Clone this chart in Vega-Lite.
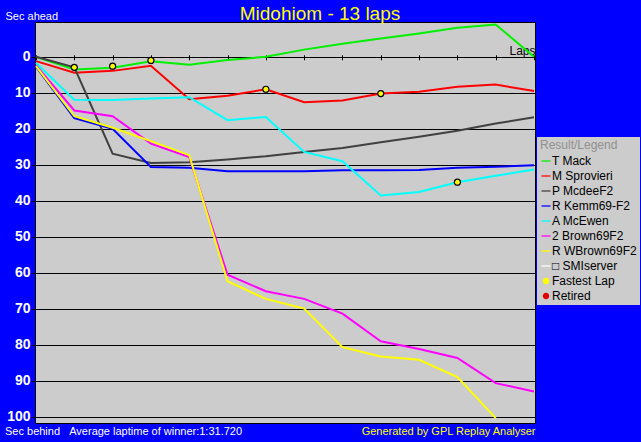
{
  "$schema": "https://vega.github.io/schema/vega-lite/v6.json",
  "width": 500,
  "height": 401,
  "autosize": {"type": "none"},
  "padding": {"left": 35, "top": 22, "right": 106, "bottom": 19},
  "background": "#0000ff",
  "title": {"text": "Midohiom - 13 laps", "color": "#ffff00", "font": "Liberation Sans", "fontSize": 19, "fontWeight": "normal", "anchor": "middle", "dx": 35, "dy": 16, "offset": 2},
  "config": {
    "view": {"fill": "#cccccc", "stroke": "#000000", "strokeWidth": 1},
    "font": "Liberation Sans",
    "legend": {"orient": "none", "legendX": 502, "legendY": 115, "titleColor": "#909090", "titleFontSize": 12, "titleFontWeight": "normal", "titleFont": "Liberation Sans", "titlePadding": 3, "labelFontSize": 12, "labelFont": "Liberation Sans", "labelColor": "#000000", "labelOffset": 0, "rowPadding": 3, "padding": 3, "fillColor": "#cccccc", "symbolSize": 81, "symbolOpacity": 1, "symbolStrokeWidth": 0}
  },
  "datasets": {
    "laps": [
      {"series": "T Mack", "lap": 0, "sec": 0}, {"series": "T Mack", "lap": 1, "sec": 3.5}, {"series": "T Mack", "lap": 2, "sec": 3.0}, {"series": "T Mack", "lap": 3, "sec": 1.2}, {"series": "T Mack", "lap": 4, "sec": 2.2}, {"series": "T Mack", "lap": 5, "sec": 0.9}, {"series": "T Mack", "lap": 6, "sec": 0.0}, {"series": "T Mack", "lap": 7, "sec": -2.0}, {"series": "T Mack", "lap": 8, "sec": -3.6}, {"series": "T Mack", "lap": 9, "sec": -5.1}, {"series": "T Mack", "lap": 10, "sec": -6.5}, {"series": "T Mack", "lap": 11, "sec": -8.1}, {"series": "T Mack", "lap": 12, "sec": -9.0}, {"series": "T Mack", "lap": 13, "sec": 0},
      {"series": "M Sprovieri", "lap": 0, "sec": 1.2}, {"series": "M Sprovieri", "lap": 1, "sec": 4.4}, {"series": "M Sprovieri", "lap": 2, "sec": 3.9}, {"series": "M Sprovieri", "lap": 3, "sec": 2.5}, {"series": "M Sprovieri", "lap": 4, "sec": 11.8}, {"series": "M Sprovieri", "lap": 5, "sec": 10.8}, {"series": "M Sprovieri", "lap": 6, "sec": 9.0}, {"series": "M Sprovieri", "lap": 7, "sec": 12.6}, {"series": "M Sprovieri", "lap": 8, "sec": 12.1}, {"series": "M Sprovieri", "lap": 9, "sec": 10.2}, {"series": "M Sprovieri", "lap": 10, "sec": 9.7}, {"series": "M Sprovieri", "lap": 11, "sec": 8.3}, {"series": "M Sprovieri", "lap": 12, "sec": 7.7}, {"series": "M Sprovieri", "lap": 13, "sec": 9.5},
      {"series": "P McdeeF2", "lap": 0, "sec": 0}, {"series": "P McdeeF2", "lap": 1, "sec": 2.9}, {"series": "P McdeeF2", "lap": 2, "sec": 26.9}, {"series": "P McdeeF2", "lap": 3, "sec": 29.5}, {"series": "P McdeeF2", "lap": 4, "sec": 29.3}, {"series": "P McdeeF2", "lap": 5, "sec": 28.5}, {"series": "P McdeeF2", "lap": 6, "sec": 27.6}, {"series": "P McdeeF2", "lap": 7, "sec": 26.4}, {"series": "P McdeeF2", "lap": 8, "sec": 25.3}, {"series": "P McdeeF2", "lap": 9, "sec": 23.7}, {"series": "P McdeeF2", "lap": 10, "sec": 22.2}, {"series": "P McdeeF2", "lap": 11, "sec": 20.5}, {"series": "P McdeeF2", "lap": 12, "sec": 18.5}, {"series": "P McdeeF2", "lap": 13, "sec": 16.8},
      {"series": "R Kemm69-F2", "lap": 0, "sec": 2.7}, {"series": "R Kemm69-F2", "lap": 1, "sec": 17.0}, {"series": "R Kemm69-F2", "lap": 2, "sec": 20.0}, {"series": "R Kemm69-F2", "lap": 3, "sec": 30.6}, {"series": "R Kemm69-F2", "lap": 4, "sec": 30.8}, {"series": "R Kemm69-F2", "lap": 5, "sec": 31.8}, {"series": "R Kemm69-F2", "lap": 6, "sec": 31.8}, {"series": "R Kemm69-F2", "lap": 7, "sec": 31.8}, {"series": "R Kemm69-F2", "lap": 8, "sec": 31.5}, {"series": "R Kemm69-F2", "lap": 9, "sec": 31.5}, {"series": "R Kemm69-F2", "lap": 10, "sec": 31.4}, {"series": "R Kemm69-F2", "lap": 11, "sec": 30.8}, {"series": "R Kemm69-F2", "lap": 12, "sec": 30.5}, {"series": "R Kemm69-F2", "lap": 13, "sec": 30.1},
      {"series": "A McEwen", "lap": 0, "sec": 1.7}, {"series": "A McEwen", "lap": 1, "sec": 11.9}, {"series": "A McEwen", "lap": 2, "sec": 12.0}, {"series": "A McEwen", "lap": 3, "sec": 11.6}, {"series": "A McEwen", "lap": 4, "sec": 11.2}, {"series": "A McEwen", "lap": 5, "sec": 17.6}, {"series": "A McEwen", "lap": 6, "sec": 16.7}, {"series": "A McEwen", "lap": 7, "sec": 26.4}, {"series": "A McEwen", "lap": 8, "sec": 29.0}, {"series": "A McEwen", "lap": 9, "sec": 38.5}, {"series": "A McEwen", "lap": 10, "sec": 37.5}, {"series": "A McEwen", "lap": 11, "sec": 34.8}, {"series": "A McEwen", "lap": 12, "sec": 33.0}, {"series": "A McEwen", "lap": 13, "sec": 31.3},
      {"series": "2 Brown69F2", "lap": 0, "sec": 2.4}, {"series": "2 Brown69F2", "lap": 1, "sec": 14.9}, {"series": "2 Brown69F2", "lap": 2, "sec": 16.5}, {"series": "2 Brown69F2", "lap": 3, "sec": 24.1}, {"series": "2 Brown69F2", "lap": 4, "sec": 27.8}, {"series": "2 Brown69F2", "lap": 5, "sec": 60.5}, {"series": "2 Brown69F2", "lap": 6, "sec": 65.1}, {"series": "2 Brown69F2", "lap": 7, "sec": 67.2}, {"series": "2 Brown69F2", "lap": 8, "sec": 71.3}, {"series": "2 Brown69F2", "lap": 9, "sec": 79.0}, {"series": "2 Brown69F2", "lap": 10, "sec": 81.1}, {"series": "2 Brown69F2", "lap": 11, "sec": 83.6}, {"series": "2 Brown69F2", "lap": 12, "sec": 90.6}, {"series": "2 Brown69F2", "lap": 13, "sec": 92.9},
      {"series": "R WBrown69F2", "lap": 0, "sec": 2.6}, {"series": "R WBrown69F2", "lap": 1, "sec": 16.5}, {"series": "R WBrown69F2", "lap": 2, "sec": 19.7}, {"series": "R WBrown69F2", "lap": 3, "sec": 23.4}, {"series": "R WBrown69F2", "lap": 4, "sec": 27.3}, {"series": "R WBrown69F2", "lap": 5, "sec": 62.3}, {"series": "R WBrown69F2", "lap": 6, "sec": 67.2}, {"series": "R WBrown69F2", "lap": 7, "sec": 69.9}, {"series": "R WBrown69F2", "lap": 8, "sec": 80.6}, {"series": "R WBrown69F2", "lap": 9, "sec": 83.2}, {"series": "R WBrown69F2", "lap": 10, "sec": 84.1}, {"series": "R WBrown69F2", "lap": 11, "sec": 88.9}, {"series": "R WBrown69F2", "lap": 12, "sec": 100.3}
    ],
    "fast": [
      {"series": "Fastest Lap", "lap": 1, "sec": 2.9},
      {"series": "Fastest Lap", "lap": 2, "sec": 2.6},
      {"series": "Fastest Lap", "lap": 3, "sec": 1.0},
      {"series": "Fastest Lap", "lap": 6, "sec": 9.0},
      {"series": "Fastest Lap", "lap": 9, "sec": 10.2},
      {"series": "Fastest Lap", "lap": 11, "sec": 34.8}
    ]
  },
  "resolve": {"axis": {"x": "independent", "y": "independent"}},
  "layer": [
    {
      "data": {"name": "laps"},
      "mark": {"type": "line", "strokeWidth": 2, "clip": true},
      "encoding": {
        "x": {
          "field": "lap", "type": "quantitative",
          "scale": {"domain": [-0.026, 13.026], "nice": false, "zero": false},
          "axis": {"orient": "top", "offset": -37.8, "values": [0,1,2,3,4,5,6,7,8,9,10,11,12,13], "labels": false, "domain": false, "grid": false, "ticks": true, "tickSize": 5, "tickColor": "#000000", "tickWidth": 1, "title": "Laps", "titleX": 500, "titleY": -5, "titleAlign": "right", "titleBaseline": "alphabetic", "titleFontSize": 12, "titleFontWeight": "normal", "titleColor": "#000000", "titleFont": "Liberation Sans"}
        },
        "y": {
          "field": "sec", "type": "quantitative",
          "scale": {"domain": [-9.67, 101.67], "reverse": true, "nice": false, "zero": false},
          "axis": {"orient": "left", "values": [0,10,20,30,40,50,60,70,80,90,100], "grid": true, "gridColor": "#000000", "gridWidth": 1, "gridOpacity": 1, "domain": false, "ticks": true, "tickSize": 4, "tickColor": "#000000", "labelColor": "#ffffff", "labelFontSize": 14, "labelFontWeight": "bold", "labelFont": "Liberation Sans", "labelPadding": 1, "title": "Sec ahead", "titleAngle": 0, "titleX": -30, "titleY": -3, "titleAlign": "left", "titleBaseline": "alphabetic", "titleColor": "#ffffff", "titleFontSize": 11, "titleFontWeight": "normal", "titleFont": "Liberation Sans"}
        },
        "stroke": {
          "field": "series", "type": "nominal",
          "scale": {
            "domain": ["T Mack", "M Sprovieri", "P McdeeF2", "R Kemm69-F2", "A McEwen", "2 Brown69F2", "R WBrown69F2", "□ SMIserver"],
            "range": ["#00f000", "#ff0000", "#404040", "#0000ff", "#00ffff", "#ff00ff", "#ffff00", "#ffffff"]
          },
          "legend": null
        },
        "order": {"field": "lap"}
      }
    },
    {
      "data": {"name": "fast"},
      "mark": {"type": "point", "filled": true, "color": "#000000", "size": 52, "opacity": 1, "shape": "circle"},
      "encoding": {
        "x": {"field": "lap", "type": "quantitative", "axis": null},
        "y": {"field": "sec", "type": "quantitative", "axis": null}
      }
    },
    {
      "data": {"name": "fast"},
      "mark": {"type": "point", "filled": true, "size": 44, "opacity": 1},
      "encoding": {
        "x": {
          "field": "lap", "type": "quantitative",
          "axis": {"orient": "bottom", "labels": false, "ticks": false, "domain": false, "grid": false, "title": "Sec behind\u00a0\u00a0\u00a0Average laptime of winner:1:31.720", "titleX": -30.5, "titleY": 11, "titleAlign": "left", "titleBaseline": "alphabetic", "titleColor": "#ffffff", "titleFontSize": 11, "titleFontWeight": "normal", "titleFont": "Liberation Sans"}
        },
        "y": {
          "field": "sec", "type": "quantitative",
          "axis": {"orient": "right", "labels": false, "ticks": false, "domain": false, "grid": false, "title": "Generated by GPL Replay Analyser", "titleAngle": 0, "titleX": 0, "titleY": 412, "titleAlign": "right", "titleBaseline": "alphabetic", "titleColor": "#ffff00", "titleFontSize": 11, "titleFontWeight": "normal", "titleFont": "Liberation Sans"}
        },
        "fill": {
          "field": "series", "type": "nominal",
          "scale": {
            "domain": ["T Mack", "M Sprovieri", "P McdeeF2", "R Kemm69-F2", "A McEwen", "2 Brown69F2", "R WBrown69F2", "□ SMIserver", "Fastest Lap", "Retired"],
            "range": ["#00f000", "#ff0000", "#404040", "#0000ff", "#00ffff", "#ff00ff", "#ffff00", "#ffffff", "#ffff00", "#e00000"]
          },
          "legend": {"title": "Result/Legend"}
        },
        "shape": {
          "field": "series", "type": "nominal",
          "scale": {
            "domain": ["T Mack", "M Sprovieri", "P McdeeF2", "R Kemm69-F2", "A McEwen", "2 Brown69F2", "R WBrown69F2", "□ SMIserver", "Fastest Lap", "Retired"],
            "range": ["M-1,-0.14H1V0.14H-1Z", "M-1,-0.14H1V0.14H-1Z", "M-1,-0.14H1V0.14H-1Z", "M-1,-0.14H1V0.14H-1Z", "M-1,-0.14H1V0.14H-1Z", "M-1,-0.14H1V0.14H-1Z", "M-1,-0.14H1V0.14H-1Z", "M-1,-0.14H1V0.14H-1Z", "M-0.72,0A0.72,0.72 0 1,0 0.72,0A0.72,0.72 0 1,0 -0.72,0Z", "M-0.72,0A0.72,0.72 0 1,0 0.72,0A0.72,0.72 0 1,0 -0.72,0Z"]
          },
          "legend": {"title": "Result/Legend"}
        }
      }
    }
  ]
}
